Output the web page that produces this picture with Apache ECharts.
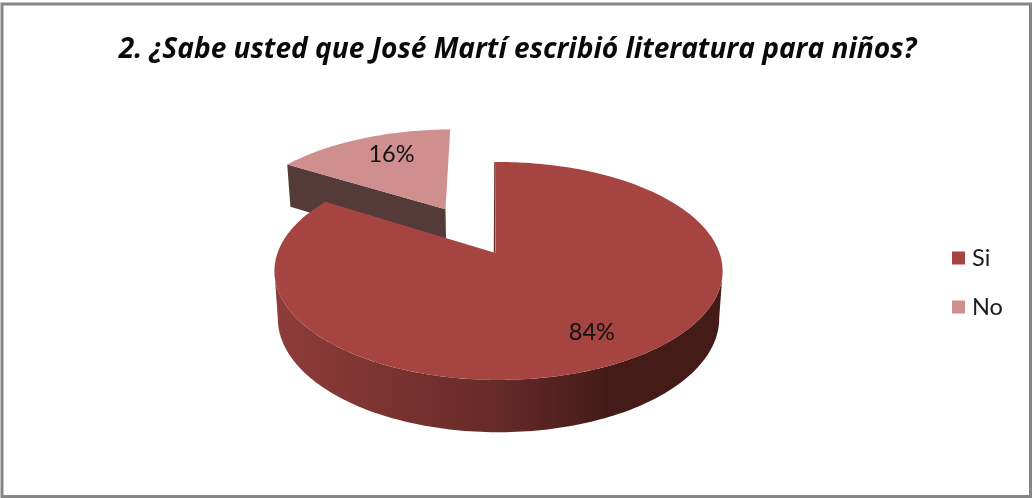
<!DOCTYPE html>
<html>
<head>
<meta charset="utf-8">
<style>html,body{margin:0;padding:0;background:#fff}#c{width:1032px;height:498px}</style>
<script src="https://cdn.jsdelivr.net/npm/echarts@6/dist/echarts.min.js"></script>
</head>
<body>
<div id="c"></div>
<script>
const titleText = '2. ¿Sabe usted que José Martí escribió literatura para niños?';
const categories = ['Si', 'No'];
const values = [84, 16];
const labels = ['84%', '16%'];
const faceColors = ['#a54441', '#cf8f8e'];

const total = values.reduce((a, b) => a + b, 0);
const TAU = Math.PI * 2;
// Perspective projection of the pie plane
const P = { cx: 498.5, cy: 253, R: 221, S: 106, k: 0.165, depth: 46.5, shrink: 0.985 };
const START = -0.013;
const EXPLODE = [0, 0.51];
const EXPLODE_U = [0, -0.006];
const APEX_SHIFT = [-3, 0];
const LABEL_R = 0.77;
const LABEL_SHIFT = [[-1, 0], [12, 1]];

function proj(u, v, low) {
  const w = 1 - P.k * v;
  let x = P.cx + P.R * u / w;
  let y = P.cy + P.S * v / w;
  if (low) {
    x = P.cx + (x - P.cx) * P.shrink;
    y += P.depth * Math.pow(w, -0.65);
  }
  return [x, y];
}
function angles(i) {
  let s = 0;
  for (let j = 0; j < i; j++) s += values[j];
  return [START + s / total * TAU, START + (s + values[i]) / total * TAU];
}
function at(theta, r, ex, low) {
  return proj(r * Math.sin(theta) + ex[0], -r * Math.cos(theta) + ex[1], low);
}
function arc(a, b, ex, low) {
  const n = Math.max(8, Math.ceil(Math.abs(b - a) / 0.02));
  const pts = [];
  for (let i = 0; i <= n; i++) pts.push(at(a + (b - a) * i / n, 1, ex, low));
  return pts;
}

function renderSlice(i) {
  const [a, b] = angles(i);
  const mid = (a + b) / 2;
  const e = EXPLODE[i];
  const ex = [e * Math.sin(mid) + EXPLODE_U[i], -e * Math.cos(mid)];
  const apex = proj(ex[0], ex[1], false);
  apex[0] += APEX_SHIFT[i];
  const children = [];
  if (i === 0) {
    // visible outer wall of the large slice
    const off = Math.asin(P.k);
    const t0 = Math.PI / 2 + off, t1 = 1.5 * Math.PI - off;
    const top = arc(t0, t1, ex, false);
    const low = arc(t1, t0, ex, true);
    children.push({
      type: 'polygon',
      shape: { points: top.concat(low) },
      style: {
        fill: new echarts.graphic.LinearGradient(0, 0, 1, 0, [
          { offset: 0, color: '#8f3c3a' },
          { offset: 0.5, color: '#652a28' },
          { offset: 0.74, color: '#451b18' },
          { offset: 1, color: '#451b18' }
        ])
      }
    });
    const corner = at(a, 1, ex, false);
    children.push({
      type: 'line',
      shape: { x1: corner[0] - 1, y1: corner[1], x2: apex[0] - 1, y2: apex[1] },
      style: { stroke: '#6b2c2a', lineWidth: 1.5 }
    });
  } else {
    // inner wall of the pulled-out slice facing the viewer
    const p = at(a, 1, ex, false), q = at(a, 1, ex, true);
    const ql = proj(ex[0], ex[1], true);
    children.push({
      type: 'polygon',
      shape: { points: [p, apex, ql, q] },
      style: { fill: '#553a3a' }
    });
  }
  children.push({
    type: 'polygon',
    shape: { points: [apex].concat(arc(a, b, ex, false)) },
    style: { fill: faceColors[i] }
  });
  const lp = at(mid, LABEL_R, ex, false);
  children.push({
    type: 'text',
    style: {
      x: lp[0] + LABEL_SHIFT[i][0], y: lp[1] + LABEL_SHIFT[i][1],
      text: labels[i], fill: '#111',
      font: '23.5px Lato', align: 'center', verticalAlign: 'middle'
    }
  });
  return { type: 'group', children };
}

const chart = echarts.init(document.getElementById('c'), null, { renderer: 'canvas' });
chart.setOption({
  animation: false,
  backgroundColor: '#fff',
  title: {
    text: titleText, left: 512.5, top: 31, textAlign: 'center',
    textStyle: { fontFamily: 'Open Sans', fontStyle: 'italic', fontWeight: 'bold', fontSize: 28.1, color: '#0a0a0a' }
  },
  legend: {
    orient: 'vertical', left: 947, top: 241, itemWidth: 13, itemHeight: 13, itemGap: 25,
    icon: 'rect', data: categories,
    textStyle: { fontFamily: 'Lato', fontSize: 23.5, color: '#1a1a1a', padding: [0, 0, 0, 2] }
  },
  graphic: [{
    type: 'rect', silent: true, z: -1,
    shape: { x: 2, y: 4, width: 1028.5, height: 492.5 },
    style: { fill: 'none', stroke: '#868686', lineWidth: 3 }
  }],
  series: categories.map((name, i) => ({
    type: 'custom', name, coordinateSystem: 'none', silent: true, clip: false,
    z: 2 + (categories.length - i),
    itemStyle: { color: faceColors[i] },
    data: [values[i]],
    renderItem: () => renderSlice(i)
  }))
});
</script>
</body>
</html>
